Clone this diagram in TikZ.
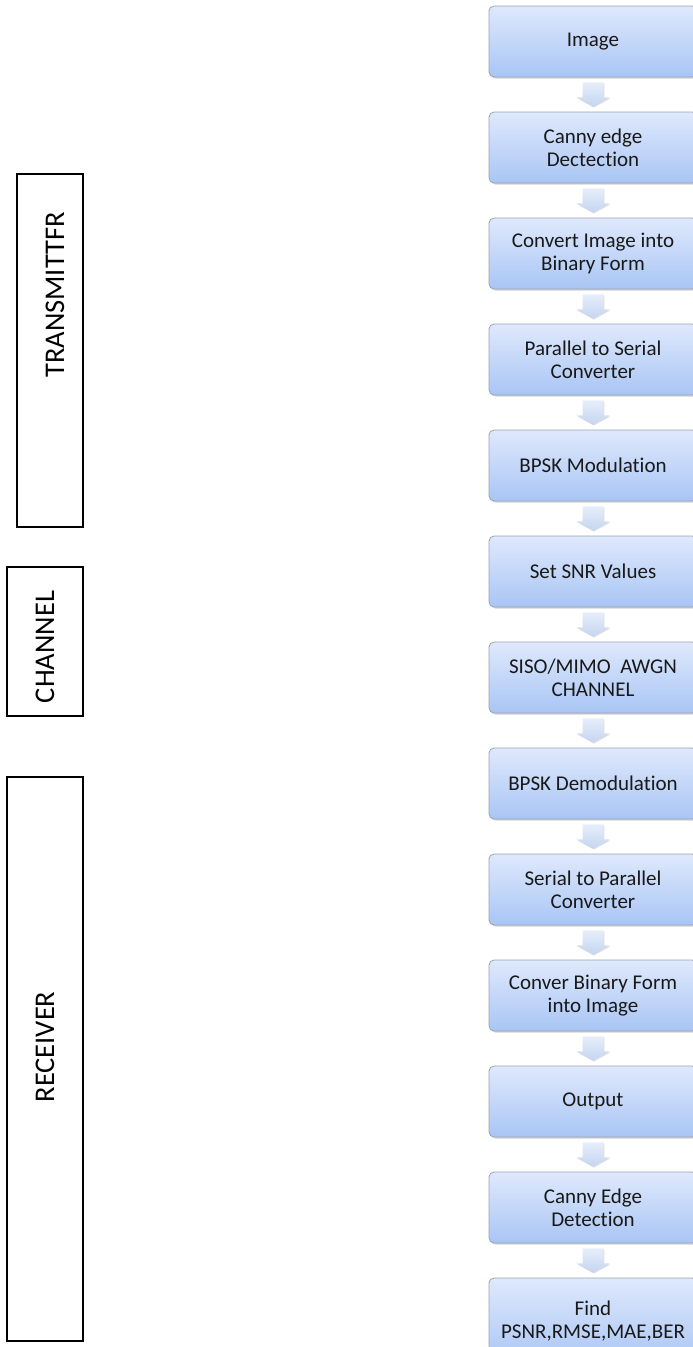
\documentclass[tikz,border=0pt]{standalone}
\usepackage{fontspec}
\setmainfont[Ligatures=NoCommon]{Carlito}
\usetikzlibrary{calc,shadows}
\definecolor{boxtop}{HTML}{DFE9FC}
\definecolor{boxbot}{HTML}{A9C5F5}
\definecolor{boxline}{HTML}{9AA3B5}
\definecolor{arrtop}{HTML}{E6EEFA}
\definecolor{arrbot}{HTML}{C4D5F0}
\tikzset{
  stepbox/.style={rounded corners=5pt, top color=boxtop, bottom color=boxbot,
    draw=boxline, line width=0.8pt, minimum width=208pt, minimum height=71pt,
    align=center, font=\fontsize{21}{23}\selectfont, text=black!90,
    drop shadow={shadow xshift=1.5pt, shadow yshift=-1.5pt, opacity=0.35}},
  sidebox/.style={draw=black, line width=2pt, fill=none},
  sidelabel/.style={rotate=90, font=\fontsize{28.5}{30}\selectfont, text=black, inner sep=0pt},
  flowarrow/.style={top color=arrtop, bottom color=arrbot, draw=none,
    drop shadow={shadow xshift=0.8pt, shadow yshift=-1pt, opacity=0.25}}
}
\newcommand{\blockarrow}[2]{%
  \path[flowarrow]
    ($(#1.south)+(-10.5,-5)$) -- ($(#1.south)+(10.5,-5)$) --
    ($(#1.south)+(10.5,-20)$) -- ($(#1.south)+(16.5,-20)$) --
    ($(#2.north)+(0,5)$) --
    ($(#1.south)+(-16.5,-20)$) -- ($(#1.south)+(-10.5,-20)$) -- cycle;}
\begin{document}
\begin{tikzpicture}[x=1pt,y=1pt]
\useasboundingbox (0,0) rectangle (693,-1347);
\fill[white] (0,0) rectangle (693,-1347);

% side boxes
\draw[sidebox] (17,-174) rectangle (83,-527);
\node[sidelabel] (ltx) at (55,-295) {TRANSMITTFR};
\draw[sidebox] (7,-567) rectangle (83,-716);
\node[sidelabel] (lch) at (45,-647) {CHANNEL};
\draw[sidebox] (7,-777) rectangle (83,-1341);
\node[sidelabel] (lrx) at (45,-1047) {RECEIVER};

% flow boxes
\node[stepbox] (b1)  at (593,-41.5)   {Image};
\node[stepbox] (b2)  at (593,-147.5)  {Canny edge\\Dectection};
\node[stepbox] (b3)  at (593,-253.5)  {Convert Image into\\Binary Form};
\node[stepbox] (b4)  at (593,-359.5)  {Parallel to Serial\\Converter};
\node[stepbox] (b5)  at (593,-465.5)  {BPSK Modulation};
\node[stepbox] (b6)  at (593,-571.5)  {Set SNR Values};
\node[stepbox] (b7)  at (593,-677.5)  {SISO/MIMO\ \ AWGN\\CHANNEL};
\node[stepbox] (b8)  at (593,-783.5)  {BPSK Demodulation};
\node[stepbox] (b9)  at (593,-889.5)  {Serial to Parallel\\Converter};
\node[stepbox] (b10) at (593,-995.5)  {Conver Binary Form\\into Image};
\node[stepbox] (b11) at (593,-1101.5) {Output};
\node[stepbox] (b12) at (593,-1207.5) {Canny Edge\\Detection};
\node[stepbox, minimum height=86pt] (b13) at (593,-1321) {Find\\PSNR,RMSE,MAE,BER};

% arrows
\blockarrow{b1}{b2}
\blockarrow{b2}{b3}
\blockarrow{b3}{b4}
\blockarrow{b4}{b5}
\blockarrow{b5}{b6}
\blockarrow{b6}{b7}
\blockarrow{b7}{b8}
\blockarrow{b8}{b9}
\blockarrow{b9}{b10}
\blockarrow{b10}{b11}
\blockarrow{b11}{b12}
\blockarrow{b12}{b13}
\end{tikzpicture}
\end{document}
